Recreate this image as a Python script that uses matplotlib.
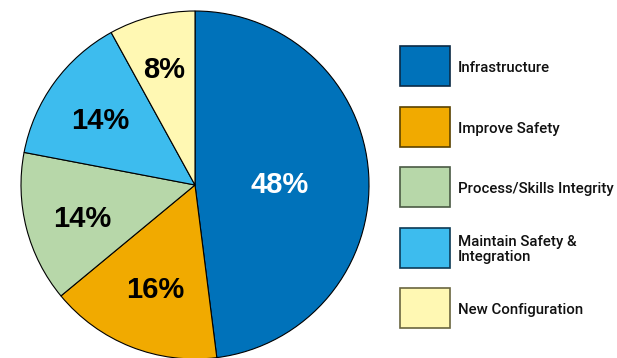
import numpy as np
import matplotlib.pyplot as plt
from matplotlib.patches import Rectangle
from matplotlib.transforms import offset_copy

categories = ["Infrastructure", "Improve Safety", "Process/Skills Integrity",
              "Maintain Safety &\nIntegration", "New Configuration"]
shares = [48, 16, 14, 14, 8]
colors = ["#0072BA", "#F1AA00", "#B7D7A9", "#3DBCEE", "#FFF8B3"]
edge_colors = ["#0B2A45", "#5A4200", "#4A5A44", "#0C3A55", "#6A6640"]
label_colors = ["white", "black", "black", "black", "black"]
# radial position of each percentage label, as a fraction of the radius
label_dist = [0.49, 0.62, 0.67, 0.67, 0.71]

W, H = 617, 358
fig = plt.figure(figsize=(W / 100, H / 100), dpi=100)

# pie axes: center (195, 185) px, radius ~174 px
cx, cy, r = 195, 185, 174
ax = fig.add_axes([(cx - r) / W, (H - cy - r) / H, 2 * r / W, 2 * r / H])
wedges, _ = ax.pie(shares, colors=colors, startangle=90, counterclock=False,
                   radius=1.0, wedgeprops=dict(edgecolor="black", linewidth=0.8))
ax.set_xlim(-1, 1)
ax.set_ylim(-1, 1)
ax.set_aspect("equal")
ax.axis("off")

lbl_trans = offset_copy(ax.transData, fig=fig, x=0, y=-2, units="dots")
for w, val, d, c in zip(wedges, shares, label_dist, label_colors):
    mid = np.deg2rad((w.theta1 + w.theta2) / 2)
    ax.text(d * np.cos(mid), d * np.sin(mid), f"{val}%", ha="center", va="center_baseline",
            fontsize=21, fontweight="heavy", family="Liberation Sans", color=c,
            transform=lbl_trans)

# legend drawn as boxes + text in pixel coords
box_x, box_w, box_h = 400, 50, 40
first_top, step = 46, 60.5
for i, (name, col, ec) in enumerate(zip(categories, colors, edge_colors)):
    top = first_top + i * step
    fig.patches.append(Rectangle((box_x / W, (H - top - box_h) / H), box_w / W, box_h / H,
                                 transform=fig.transFigure, facecolor=col,
                                 edgecolor=ec, linewidth=1.2))
    fig.text(458 / W, (H - top - box_h / 2 - 2) / H, name, ha="left", va="center",
             fontsize=10.8, fontweight="medium", family="Roboto", color="#111111",
             linespacing=1.15)

fig.savefig("out.png", dpi=100)
